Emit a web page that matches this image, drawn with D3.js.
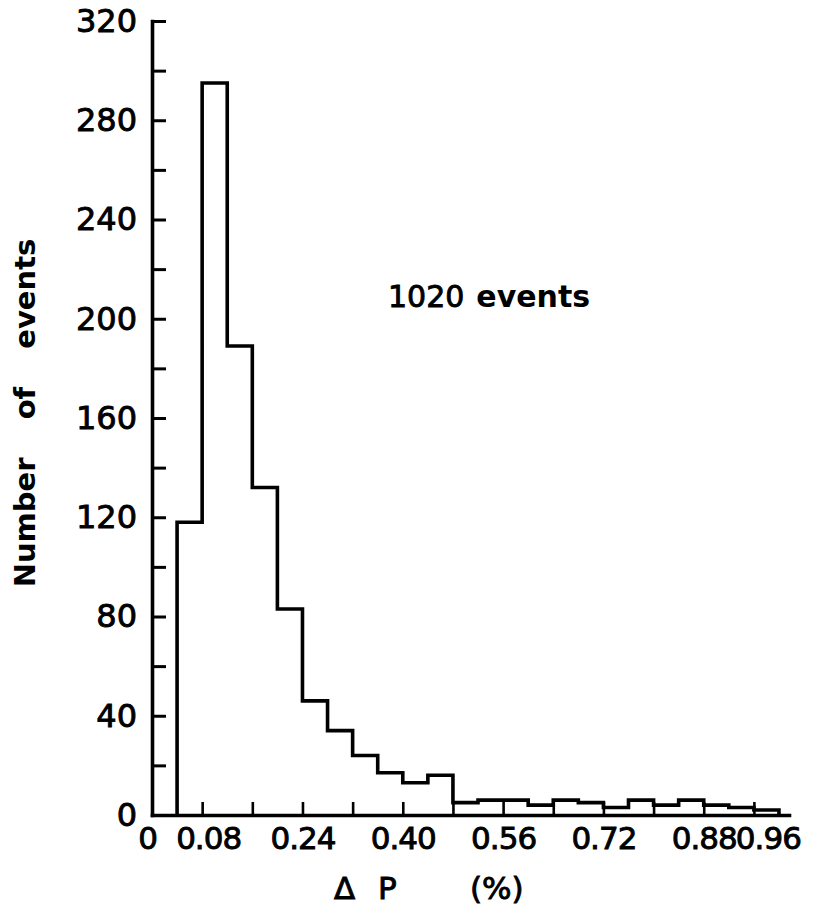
<!DOCTYPE html>
<html>
<head>
<meta charset="utf-8">
<script src="https://cdn.jsdelivr.net/npm/d3@7"></script>
<style>
  html, body { margin: 0; padding: 0; background: #fff; }
  svg { display: block; }
  text { font-family: "DejaVu Sans", sans-serif; fill: #000; }
</style>
</head>
<body>
<svg id="chart" width="817" height="910"></svg>
<script>
// Histogram of momentum resolution ΔP (%), bins 0.04 wide
const binStart = 0.04;
const binWidth = 0.04;
const counts = [118, 295, 189, 132, 83, 46, 34, 24, 17, 13, 16, 5,
                6, 6, 4, 6, 5, 3, 6, 4, 6, 4, 3, 2];
const xTicks = [0, 0.08, 0.16, 0.24, 0.32, 0.40, 0.48, 0.56, 0.64, 0.72, 0.80, 0.88, 0.96];
const xTickLabels = ["0", "0.08", "", "0.24", "", "0.40", "", "0.56", "", "0.72", "", "0.88", "0.96"];
const yTicks = d3.range(0, 321, 20);
const yTickLabels = ["0", "", "40", "", "80", "", "120", "", "160", "", "200", "", "240", "", "280", "", "320"];
const totalLabel = "1020 events";

const svg = d3.select("#chart");
svg.append("rect").attr("width", 817).attr("height", 910).attr("fill", "#fff");

const x = d3.scaleLinear().domain([0, 1.016]).range([152, 789]);
const y = d3.scaleLinear().domain([0, 320]).range([815, 21]);

// histogram outline as a single stepped path
const edges = counts.map((_, i) => binStart + i * binWidth);
const pts = [[edges[0], 0]];
counts.forEach((c, i) => {
  pts.push([edges[i], c]);
  pts.push([edges[i] + binWidth, c]);
});
pts.push([edges[edges.length - 1] + binWidth, 0]);

svg.append("path")
  .attr("d", d3.line().x(d => x(d[0])).y(d => y(d[1]))(pts))
  .attr("fill", "none")
  .attr("stroke", "#000")
  .attr("stroke-width", 3.6)
  .attr("stroke-linejoin", "miter");

// y axis: inward ticks every 20, labels every 40
const yAxis = d3.axisLeft(y)
  .tickValues(yTicks)
  .tickFormat((d, i) => yTickLabels[i])
  .tickSize(-14)
  .tickSizeOuter(0)
  .tickPadding(15);

const gy = svg.append("g").attr("transform", `translate(${x(0)},0)`).call(yAxis);
gy.select(".domain").attr("stroke-width", 3.6).attr("stroke-linecap", "square");
gy.selectAll(".tick line").attr("stroke-width", 3);
gy.selectAll(".tick text")
  .attr("font-size", 32)
  .attr("fill", "#000")
  .attr("stroke", "#000")
  .attr("stroke-width", 0.9)
  .attr("font-family", "DejaVu Sans");

// x axis: inward ticks every 0.08
const xAxis = d3.axisBottom(x)
  .tickValues(xTicks)
  .tickFormat((d, i) => xTickLabels[i])
  .tickSize(-13)
  .tickSizeOuter(0)
  .tickPadding(12);

const gx = svg.append("g").attr("transform", `translate(0,${y(0)})`).call(xAxis);
gx.select(".domain").attr("stroke-width", 3.6).attr("stroke-linecap", "square");
gx.selectAll(".tick line").attr("stroke-width", 2.6);
gx.selectAll(".tick text")
  .attr("font-size", 31)
  .attr("letter-spacing", -1)
  .attr("fill", "#000")
  .attr("stroke", "#000")
  .attr("stroke-width", 0.9)
  .attr("font-family", "DejaVu Sans")
  .attr("dx", d => d === 0 ? -5 : d === 0.96 ? 14 : d === 0.08 ? 6 : 0);
gx.selectAll(".tick").filter(d => d === 0).select("line").remove();

// axis titles
svg.append("text")
  .attr("transform", "translate(35,413) rotate(-90)")
  .attr("text-anchor", "middle")
  .attr("font-size", 29)
  .attr("font-weight", "bold")
  .attr("word-spacing", 28)
  .text("Number of events");

const xt = svg.append("text").attr("y", 899).attr("font-size", 31)
  .attr("stroke", "#000").attr("stroke-width", 0.9);
xt.append("tspan").attr("x", 334).text("Δ");
xt.append("tspan").attr("x", 378).text("P");
xt.append("tspan").attr("x", 470).text("(%)");

// total count annotation
const ann = svg.append("text").attr("x", 388).attr("y", 307).attr("font-size", 30);
const parts = totalLabel.split(" ");
ann.append("tspan").attr("stroke", "#000").attr("stroke-width", 0.9).text(parts[0]);
ann.append("tspan").attr("dx", 12).attr("font-weight", "bold").text(parts[1]);
</script>
</body>
</html>
